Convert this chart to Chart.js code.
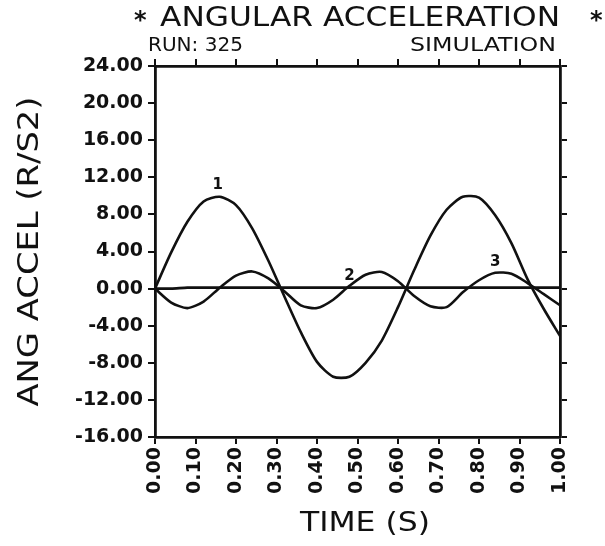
<!DOCTYPE html>
<html>
<head>
<meta charset="utf-8">
<title>Angular Acceleration</title>
<script src="https://cdn.jsdelivr.net/npm/chart.js@4.4.1/dist/chart.umd.min.js"></script>
<style>
    html, body { margin: 0; padding: 0; background: #fff; }
    #wrap { width: 605px; height: 546px; }
</style>
</head>
<body>
<div id="wrap"><canvas id="accelChart" width="605" height="546"></canvas></div>
<script>
(function() {
    'use strict';

    // ===== DATA =====
    const timeValues = [0.00, 0.04, 0.08, 0.12, 0.16, 0.20, 0.24, 0.28, 0.32, 0.36, 0.40, 0.44, 0.48,
                        0.52, 0.56, 0.60, 0.64, 0.68, 0.72, 0.76, 0.80, 0.84, 0.88, 0.92, 0.96, 1.00];
    const curve1 = [0.0, 3.9, 7.2, 9.4, 9.9, 9.0, 6.5, 3.0, -0.9, -4.7, -7.9, -9.5, -9.5,
                    -8.0, -5.6, -2.0, 2.0, 5.7, 8.5, 9.9, 9.8, 7.9, 4.9, 1.0, -2.2, -5.1];
    const curve2 = [0.0, 0.0, 0.1, 0.1, 0.1, 0.1, 0.1, 0.1, 0.1, 0.1, 0.1, 0.1, 0.1,
                    0.1, 0.1, 0.1, 0.1, 0.1, 0.1, 0.1, 0.1, 0.1, 0.1, 0.1, 0.1, 0.1];
    const curve3 = [0.0, -1.5, -2.1, -1.4, 0.1, 1.4, 1.85, 1.1, -0.3, -1.8, -2.1, -1.2, 0.3,
                    1.5, 1.8, 0.8, -0.8, -1.9, -2.0, -0.4, 0.9, 1.7, 1.6, 0.6, -0.6, -1.8];
    const yTickValues = [-16, -12, -8, -4, 0, 4, 8, 12, 16, 20, 24];
    const xTickValues = [0.0, 0.1, 0.2, 0.3, 0.4, 0.5, 0.6, 0.7, 0.8, 0.9, 1.0];
    const curveNames = ['1', '2', '3'];

    // where the curve numbers sit, in data units
    const curveNameAnchors = [
        { x: 0.155, y: 11.2 },
        { x: 0.48, y: 1.3 },
        { x: 0.84, y: 2.9 }
    ];

    const INK = '#111';
    const tickFont = { family: 'DejaVu Sans', size: 19, weight: 'bold' };

    function toPoints(values) {
        return timeValues.map((t, i) => ({ x: t, y: values[i] }));
    }

    function lineSet(label, values) {
        return {
            label: label,
            data: toPoints(values),
            borderColor: INK,
            borderWidth: 2.6,
            pointRadius: 0,
            tension: 0.25,
            fill: false
        };
    }

    // plotter lettering is wide: stretch text sideways to fill a given width
    function wideText(ctx, text, left, y, width) {
        const w = ctx.measureText(text).width;
        ctx.save();
        ctx.textAlign = 'left';
        ctx.translate(left, y);
        ctx.scale(width / w, 1);
        ctx.fillText(text, 0, 0);
        ctx.restore();
    }

    // ===== HEADER, AXIS TITLES, CURVE NUMBERS =====
    const lettering = {
        id: 'lettering',
        afterDraw(chart) {
            const ctx = chart.ctx;
            const area = chart.chartArea;
            ctx.save();
            ctx.fillStyle = INK;
            ctx.textBaseline = 'middle';

            ctx.font = 'bold 24px "DejaVu Sans"';
            ctx.textAlign = 'left';
            ctx.fillText('*', 134, 22);
            ctx.fillText('*', 590, 22);

            ctx.font = '27px "DejaVu Sans"';
            wideText(ctx, 'ANGULAR ACCELERATION', 160, 19, 400);

            ctx.font = '20px "DejaVu Sans"';
            wideText(ctx, 'RUN: 325', 148, 46, 95);
            wideText(ctx, 'SIMULATION', 410, 46, 146);

            // x axis title
            ctx.font = '27px "DejaVu Sans"';
            wideText(ctx, 'TIME (S)', 300, 524, 130);

            // y axis title, reading upwards
            ctx.save();
            ctx.translate(31, (area.top + area.bottom) / 2);
            ctx.rotate(-Math.PI / 2);
            ctx.font = '28px "DejaVu Sans"';
            wideText(ctx, 'ANG ACCEL (R/S2)', -155, 0, 310);
            ctx.restore();

            // curve numbers
            const xs = chart.scales.x;
            const ys = chart.scales.y;
            ctx.font = 'bold 15px "DejaVu Sans"';
            ctx.textAlign = 'center';
            curveNames.forEach((name, i) => {
                const a = curveNameAnchors[i];
                ctx.fillText(name, xs.getPixelForValue(a.x), ys.getPixelForValue(a.y));
            });
            ctx.restore();
        }
    };

    const whiteBg = {
        id: 'whiteBg',
        beforeDraw(chart) {
            const ctx = chart.ctx;
            ctx.save();
            ctx.fillStyle = '#fff';
            ctx.fillRect(0, 0, chart.width, chart.height);
            ctx.restore();
        }
    };

    function frameAxis(extra) {
        return Object.assign({
            type: 'linear',
            display: true,
            border: { display: true, color: INK, width: 2.8 },
            grid: { drawOnChartArea: false, color: INK, tickColor: INK, tickLength: 7, lineWidth: 2 }
        }, extra);
    }

    new Chart(document.getElementById('accelChart'), {
        type: 'line',
        data: {
            datasets: [
                lineSet(curveNames[0], curve1),
                lineSet(curveNames[1], curve2),
                lineSet(curveNames[2], curve3)
            ]
        },
        options: {
            responsive: false,
            animation: false,
            layout: { padding: { left: 10, right: 37, top: 58, bottom: 8 } },
            plugins: {
                legend: { display: false },
                title: { display: false },
                tooltip: { enabled: false }
            },
            scales: {
                x: frameAxis({
                    position: 'bottom',
                    min: 0,
                    max: 1,
                    afterBuildTicks: (scale) => { scale.ticks = xTickValues.map(v => ({ value: v })); },
                    afterFit: (scale) => { scale.height = 101; },
                    ticks: {
                        color: INK,
                        font: tickFont,
                        minRotation: 90,
                        maxRotation: 90,
                        padding: 3,
                        callback: (v) => Number(v).toFixed(2)
                    }
                }),
                x2: frameAxis({
                    position: 'top',
                    min: 0,
                    max: 1,
                    afterBuildTicks: (scale) => { scale.ticks = xTickValues.map(v => ({ value: v })); },
                    afterFit: (scale) => { scale.height = 8; },
                    ticks: { display: false }
                }),
                y: frameAxis({
                    position: 'left',
                    min: -16,
                    max: 24,
                    afterBuildTicks: (scale) => { scale.ticks = yTickValues.map(v => ({ value: v })); },
                    afterFit: (scale) => { scale.width = 145; },
                    ticks: {
                        color: INK,
                        font: tickFont,
                        padding: 5,
                        callback: (v) => Number(v).toFixed(2)
                    }
                }),
                y2: frameAxis({
                    position: 'right',
                    min: -16,
                    max: 24,
                    afterBuildTicks: (scale) => { scale.ticks = yTickValues.map(v => ({ value: v })); },
                    afterFit: (scale) => { scale.width = 8; },
                    ticks: { display: false }
                })
            }
        },
        plugins: [whiteBg, lettering]
    });
})();
</script>
</body>
</html>
